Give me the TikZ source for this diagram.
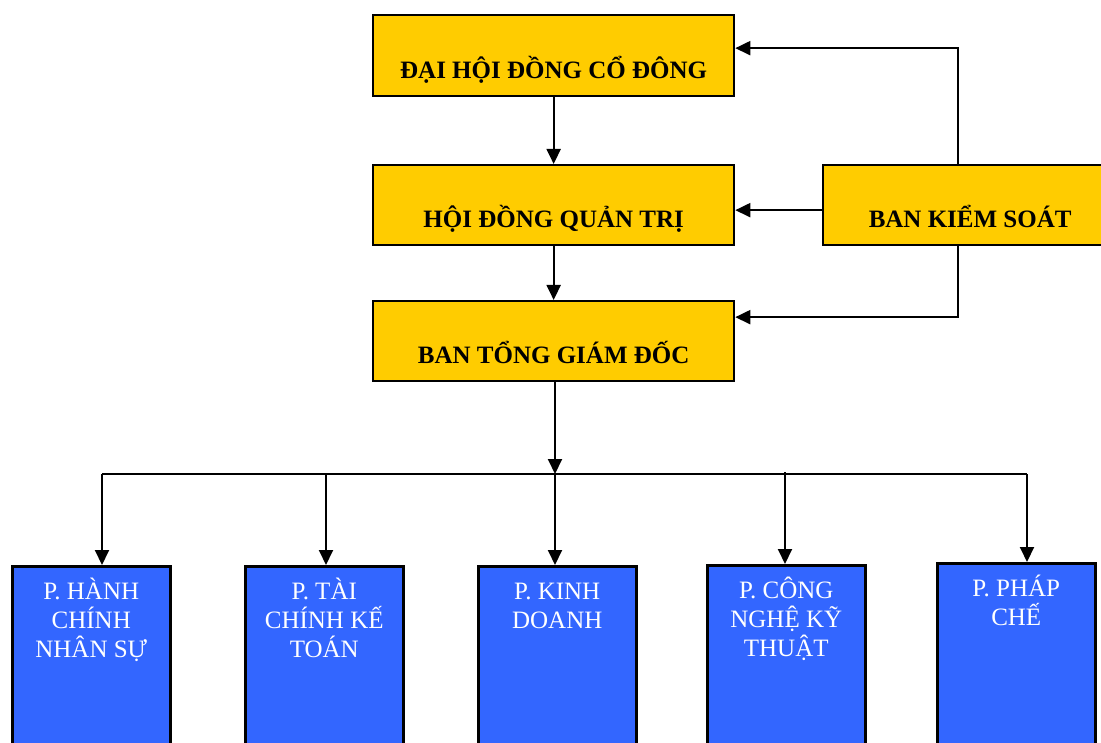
\documentclass[tikz,border=0pt]{standalone}
\usepackage{fontspec}
\setmainfont{Liberation Serif}
\usetikzlibrary{arrows.meta}
\definecolor{ybg}{HTML}{FFCC00}
\definecolor{bbg}{HTML}{3366FF}
\tikzset{
  ybox/.style={draw=black, line width=2.3pt, fill=ybg, inner sep=0pt, anchor=north west,
    font=\fontsize{25}{29}\selectfont\bfseries, text height=50pt, text depth=5pt,
    minimum width=361pt, minimum height=81pt},
  bbox/.style={draw=black, line width=2.5pt, fill=bbg, text=white, inner sep=0pt,
    anchor=north west, font=\fontsize{25}{29}\selectfont},
  arr/.style={line width=2pt, -{Triangle[length=15pt,width=14pt]}},
  ln/.style={line width=2.2pt}
}
\newcommand{\btext}[1]{\parbox[b][220pt][t]{158pt}{\centering\rule{0pt}{33pt}#1}}
\begin{document}
\begin{tikzpicture}[x=1pt,y=-1pt]
\useasboundingbox (0,0) rectangle (1101,743);
% top boxes
\node[ybox] (dh) at (372,14) {ĐẠI HỘI ĐỒNG CỔ ĐÔNG};
\node[ybox, minimum height=80pt] (qt) at (372,164) {HỘI ĐỒNG QUẢN TRỊ};
\node[ybox, minimum height=80pt] (gd) at (372,300) {BAN TỔNG GIÁM ĐỐC};
\node[ybox, minimum width=294pt, minimum height=80pt] (ks) at (822,164) {BAN KIỂM SOÁT};
% bottom boxes
\node[bbox] (p1) at (11,565) {\btext{P. HÀNH\\CHÍNH\\NHÂN SỰ}};
\node[bbox] (p2) at (244,565) {\btext{P. TÀI\\CHÍNH KẾ\\TOÁN}};
\node[bbox] (p3) at (477,565) {\btext{P. KINH\\DOANH}};
\node[bbox] (p4) at (706,564) {\btext{P. CÔNG\\NGHỆ KỸ\\THUẬT}};
\node[bbox] (p5) at (936,562) {\btext{P. PHÁP\\CHẾ}};
% coordinates
\coordinate (kx) at (958,0);
\coordinate (bus) at (555,474);
\coordinate (busL) at (102,474);
\coordinate (busR) at (1027,474);
\coordinate (d2) at (326,474);
\coordinate (d4) at (785,472);
% connectors
\draw[arr] (dh.south) -- (qt.north);
\draw[arr] (qt.south) -- (gd.north);
\draw[arr] (ks.north -| kx) |- ([yshift=7.5pt]dh.east);
\draw[arr] ([yshift=-5pt]ks.west) -- ([yshift=-5pt]qt.east);
\draw[arr] (ks.south -| kx) |- ([yshift=24pt]gd.east);
\draw[arr] (gd.south -| bus) -- (bus);
\draw[ln] (busL) -- (busR);
\draw[arr] (busL) -- (p1.north -| busL);
\draw[arr] (d2) -- (p2.north -| d2);
\draw[arr] (bus) -- (p3.north -| bus);
\draw[arr] (d4) -- (p4.north -| d4);
\draw[arr] (busR) -- (p5.north -| busR);
\end{tikzpicture}
\end{document}
